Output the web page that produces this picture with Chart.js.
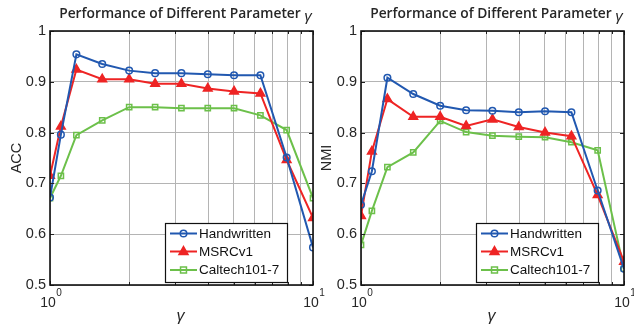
<!DOCTYPE html>
<html><head><meta charset="utf-8">
<script src="https://cdn.jsdelivr.net/npm/chart.js@4/dist/chart.umd.min.js"></script>
<style>
body{margin:0;background:#fff;width:634px;height:328px;overflow:hidden;position:relative}
canvas{position:absolute;top:0}
</style></head><body>
<canvas id="accChart" width="325" height="328" style="left:0px"></canvas>
<canvas id="nmiChart" width="323" height="328" style="left:311px"></canvas>
<script>
// ---------- data ----------
const gammaValues = [1, 1.1, 1.26, 1.58, 2, 2.51, 3.16, 3.98, 5.01, 6.31, 7.94, 10];
const seriesNames = ['Handwritten', 'MSRCv1', 'Caltech101-7'];
const accHandwritten = [0.672, 0.796, 0.954, 0.935, 0.922, 0.917, 0.917, 0.915, 0.913, 0.913, 0.751, 0.574];
const accMSRCv1      = [0.715, 0.812, 0.924, 0.905, 0.905, 0.896, 0.896, 0.887, 0.881, 0.877, 0.746, 0.632];
const accCaltech     = [0.671, 0.715, 0.795, 0.824, 0.850, 0.850, 0.848, 0.848, 0.848, 0.834, 0.805, 0.671];
const nmiHandwritten = [0.658, 0.724, 0.908, 0.876, 0.853, 0.844, 0.843, 0.840, 0.842, 0.840, 0.686, 0.532];
const nmiMSRCv1      = [0.636, 0.763, 0.866, 0.831, 0.831, 0.813, 0.826, 0.811, 0.800, 0.793, 0.677, 0.546];
const nmiCaltech     = [0.579, 0.646, 0.732, 0.761, 0.823, 0.801, 0.794, 0.792, 0.791, 0.781, 0.765, 0.532];
const xGridTicks = [1, 2, 3, 4, 5, 6, 7, 8, 9, 10];
const xTickLabels = [{v: 1, base: '10', exp: '0'}, {v: 10, base: '10', exp: '1'}];
const yTicks = [0.5, 0.6, 0.7, 0.8, 0.9, 1];
const chartTitle = 'Performance of Different Parameter ';
const xTitle = 'γ';

// ---------- styles ----------
const FONT = '"Liberation Sans", Arial, Helvetica, sans-serif';
const TFONT = '"Open Sans", "Noto Sans", sans-serif';
const styles = [
  {color: '#2158b0', pointStyle: 'circle', radius: 3.3, fill: 'rgba(0,0,0,0)'},
  {color: '#ee2424', pointStyle: 'triangle', radius: 5, fill: '#ee2424'},
  {color: '#6cc04a', pointStyle: 'rect', radius: 3.7, fill: 'rgba(0,0,0,0)'}
];

function mkDatasets(arrs){
  return arrs.map((arr, i) => ({
    label: seriesNames[i],
    data: arr.map((v, k) => ({x: gammaValues[k], y: v})),
    borderColor: styles[i].color,
    backgroundColor: styles[i].fill,
    pointBackgroundColor: styles[i].fill,
    pointBorderColor: styles[i].color,
    pointStyle: styles[i].pointStyle,
    pointRadius: styles[i].radius,
    pointBorderWidth: 1.5,
    borderWidth: 2,
    tension: 0,
    fill: false
  }));
}

function drawMarker(ctx, st, x, y){
  ctx.save();
  ctx.strokeStyle = st.color; ctx.fillStyle = st.fill; ctx.lineWidth = 1.5;
  ctx.beginPath();
  if (st.pointStyle === 'circle') { ctx.arc(x, y, st.radius, 0, Math.PI*2); ctx.stroke(); }
  else if (st.pointStyle === 'rect') { ctx.rect(x - st.radius*0.8, y - st.radius*0.8, st.radius*1.6, st.radius*1.6); ctx.stroke(); }
  else { const r = st.radius; ctx.moveTo(x, y - r); ctx.lineTo(x + r*0.9, y + r*0.6); ctx.lineTo(x - r*0.9, y + r*0.6); ctx.closePath(); ctx.fill(); ctx.stroke(); }
  ctx.restore();
}

const deco = {
  id: 'deco',
  afterDatasetsDraw(chart){
    const {ctx, chartArea: a, scales: {x, y}} = chart;
    ctx.save();
    // inside ticks
    ctx.strokeStyle = '#222'; ctx.lineWidth = 1;
    yTicks.forEach(v => {
      const py = Math.round(y.getPixelForValue(v)) + 0.5;
      ctx.beginPath(); ctx.moveTo(a.left, py); ctx.lineTo(a.left + 4, py);
      ctx.moveTo(a.right, py); ctx.lineTo(a.right - 4, py); ctx.stroke();
    });
    xGridTicks.forEach(v => {
      const px = Math.round(x.getPixelForValue(v)) + 0.5;
      const len = (v === 1 || v === 10) ? 4 : 3;
      ctx.beginPath(); ctx.moveTo(px, a.bottom); ctx.lineTo(px, a.bottom - len);
      ctx.moveTo(px, a.top); ctx.lineTo(px, a.top + len); ctx.stroke();
    });
    // box
    ctx.strokeStyle = '#111'; ctx.lineWidth = 1.6;
    ctx.strokeRect(a.left, a.top, a.right - a.left, a.bottom - a.top);

    // legend
    const L = a.right - 148, T = a.bottom - 62, W = 122, H = 59;
    ctx.fillStyle = '#fff'; ctx.fillRect(L, T, W, H);
    ctx.strokeStyle = '#111'; ctx.lineWidth = 1.2; ctx.strokeRect(L + 0.5, T + 0.5, W, H);
    ctx.font = '13.5px ' + FONT; ctx.textBaseline = 'middle'; ctx.textAlign = 'left';
    const rows = [10.5, 28.5, 47];
    chart.data.datasets.forEach((ds, i) => {
      const ry = T + rows[i];
      ctx.strokeStyle = styles[i].color; ctx.lineWidth = 2;
      ctx.beginPath(); ctx.moveTo(L + 5, ry); ctx.lineTo(L + 32, ry); ctx.stroke();
      drawMarker(ctx, styles[i], L + 18.5, ry);
      ctx.fillStyle = '#111';
      ctx.fillText(ds.label, L + 34, ry + 0.5);
    });
    ctx.restore();
  },
  afterDraw(chart, args, opts){
    const {ctx, chartArea: a, scales: {x}} = chart;
    ctx.save();
    ctx.fillStyle = '#262626';
    // title
    ctx.font = '600 13.8px ' + TFONT; ctx.textBaseline = 'middle';
    const tw = ctx.measureText(chartTitle).width;
    ctx.font = 'italic 15px ' + FONT;
    const gw = ctx.measureText(xTitle).width;
    const cx = (a.left + a.right) / 2 + 4;
    let sx = cx - (tw + gw) / 2;
    ctx.font = '600 13.8px ' + TFONT; ctx.textAlign = 'left';
    ctx.fillText(chartTitle, sx, 14.5);
    ctx.font = 'italic 15px ' + FONT;
    ctx.fillText(xTitle, sx + tw, 16.5);
    // x tick labels
    xTickLabels.forEach(t => {
      const px = x.getPixelForValue(t.v);
      ctx.font = '14px ' + FONT;
      const bw = ctx.measureText(t.base).width;
      ctx.textAlign = 'left';
      ctx.fillText(t.base, px - bw / 2 - 2, 303);
      ctx.font = '10px ' + FONT;
      ctx.fillText(t.exp, px + bw / 2 - 1.5, 293);
    });
    // x title
    ctx.font = 'italic 16px ' + FONT; ctx.textAlign = 'center';
    ctx.fillText(xTitle, (a.left + a.right) / 2 - 1, 317);
    // y title
    ctx.save();
    ctx.translate(opts.yTitleX, (a.top + a.bottom) / 2);
    ctx.rotate(-Math.PI / 2);
    ctx.font = '14.5px ' + FONT; ctx.textAlign = 'center';
    ctx.fillText(opts.yTitle, 0, 0);
    ctx.restore();
    ctx.restore();
  }
};

function makeChart(id, arrs, yTitle, yTitleX, padRight){
  return new Chart(document.getElementById(id), {
    type: 'line',
    data: {datasets: mkDatasets(arrs)},
    options: {
      responsive: false, animation: false, devicePixelRatio: 1,
      layout: {padding: {top: 31, right: padRight, left: 0, bottom: 0}},
      plugins: {legend: {display: false}, tooltip: {enabled: false}, title: {display: false},
        deco: {yTitle: yTitle, yTitleX: yTitleX}},
      scales: {
        x: {
          type: 'logarithmic', min: 1, max: 10,
          afterBuildTicks: s => { s.ticks = xGridTicks.map(v => ({value: v})); },
          afterFit: s => { s.height = 43; },
          ticks: {display: false},
          grid: {color: '#b4b4b4', lineWidth: 1, drawTicks: false},
          border: {display: false}
        },
        y: {
          min: 0.5, max: 1,
          afterBuildTicks: s => { s.ticks = yTicks.map(v => ({value: v})); },
          afterFit: s => { s.width = 50; },
          ticks: {color: '#262626', font: {family: FONT, size: 14.5}, padding: 4,
                  callback: v => String(Math.round(v * 10) / 10)},
          grid: {color: '#b4b4b4', lineWidth: 1, drawTicks: false},
          border: {display: false}
        }
      }
    },
    plugins: [deco]
  });
}

makeChart('accChart', [accHandwritten, accMSRCv1, accCaltech], 'ACC', 17, 12);
makeChart('nmiChart', [nmiHandwritten, nmiMSRCv1, nmiCaltech], 'NMI', 16, 10);
</script>
</body></html>
